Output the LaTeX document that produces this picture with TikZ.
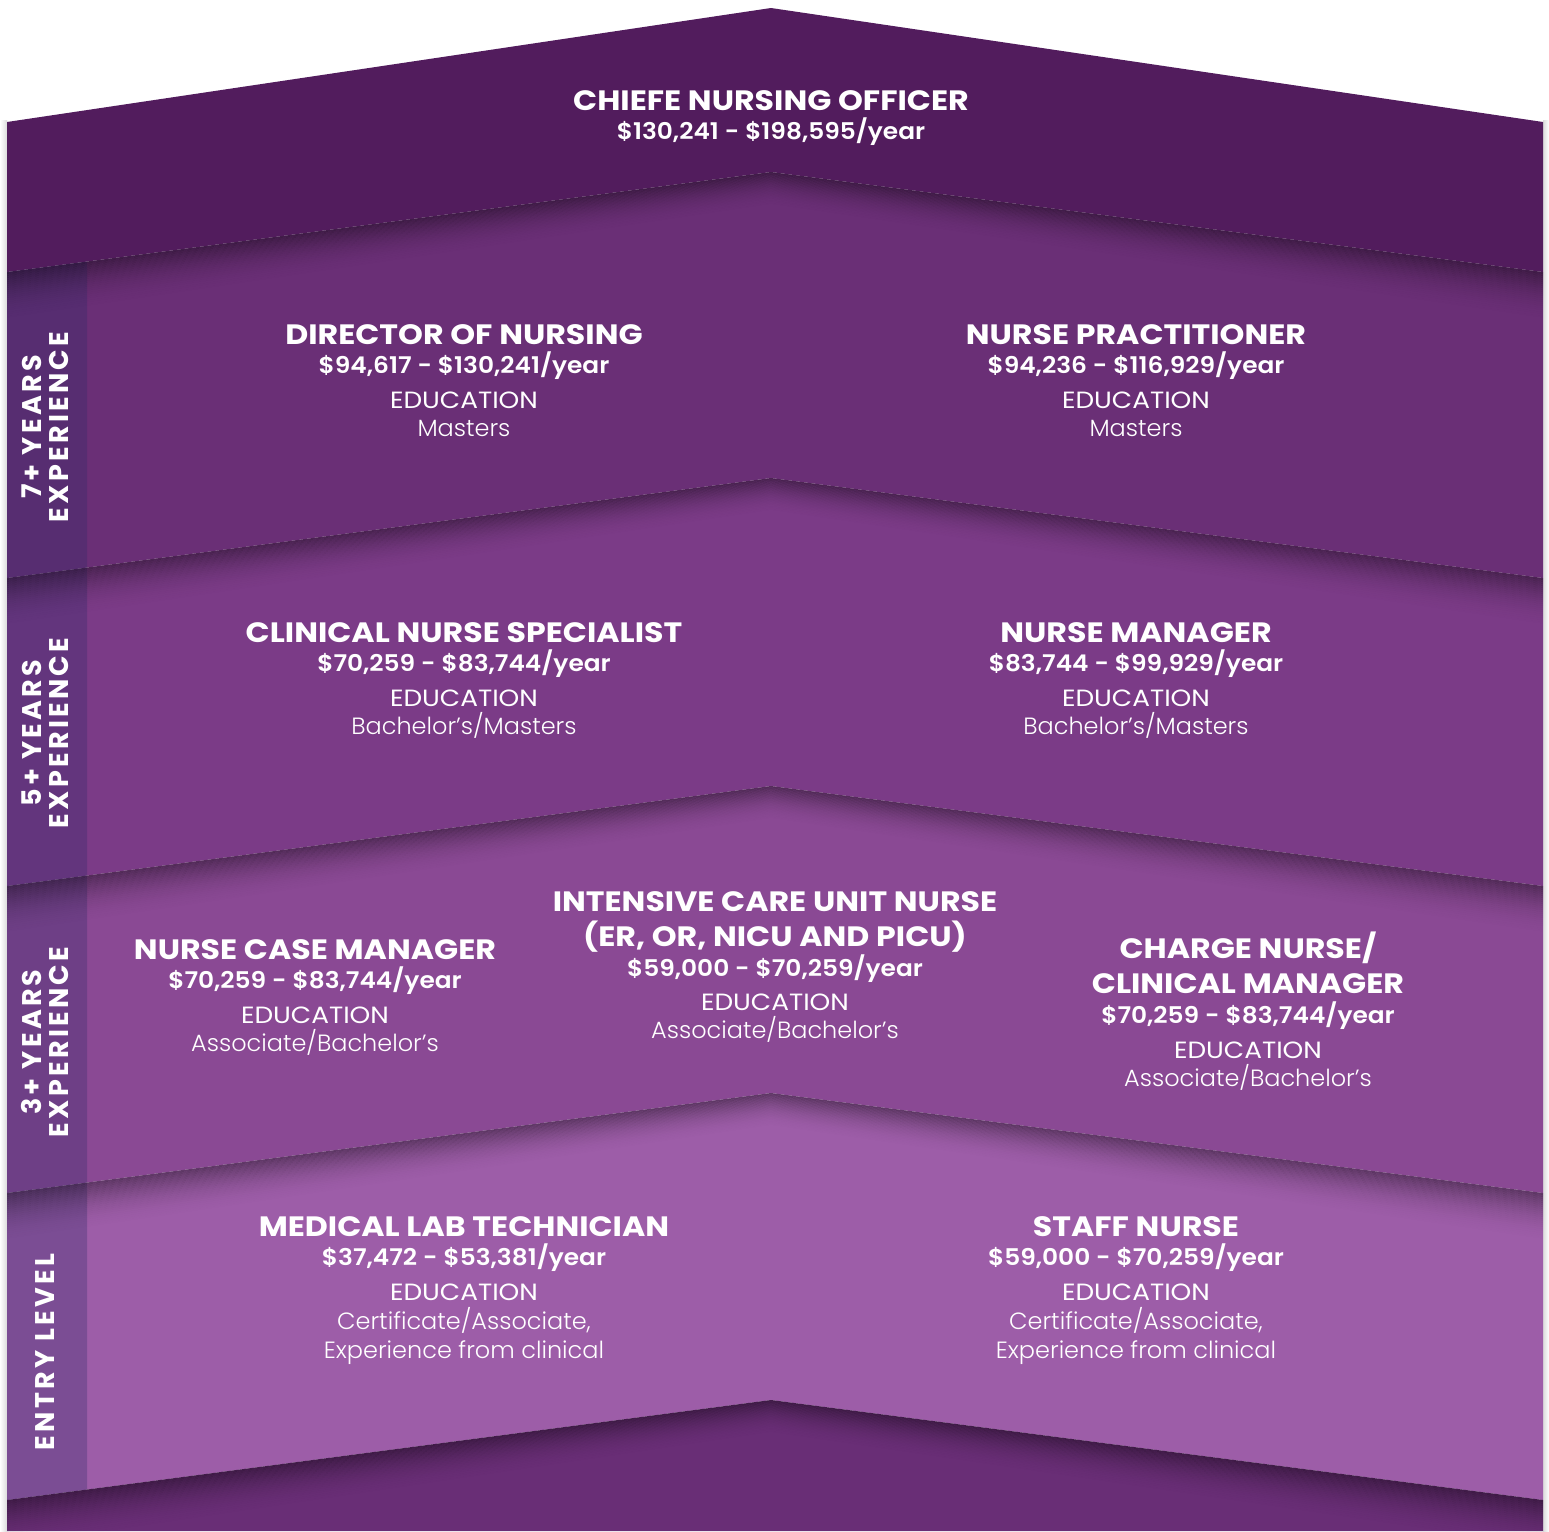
\documentclass[tikz,border=0pt]{standalone}
\usepackage{fontspec}
\setmainfont{Poppins}
\newfontfamily\fTitle{Poppins Bold}[FakeStretch=1.13]
\newfontfamily\fSal{Poppins SemiBold}[FakeStretch=1.08]
\newfontfamily\fEdu{Poppins}[FakeStretch=1.12]
\newfontfamily\fDeg{Poppins Light}[FakeStretch=1.02]
\newfontfamily\fSide{Poppins Bold}[LetterSpace=12]
\definecolor{bandA}{HTML}{521C5D}
\definecolor{bandB}{HTML}{6A2F76}
\definecolor{bandC}{HTML}{7B3B87}
\definecolor{bandD}{HTML}{8A4994}
\definecolor{bandE}{HTML}{9D5DA8}
\definecolor{bandF}{HTML}{692E76}
\definecolor{sideov}{HTML}{2E2A66}
\tikzset{
  ttl/.style={text=white, anchor=base, inner sep=0pt, font=\fTitle\fontsize{28}{28}\selectfont},
  sal/.style={text=white, anchor=base, inner sep=0pt, font=\fSal\fontsize{23}{23}\selectfont},
  edu/.style={text=white, anchor=base, inner sep=0pt, font=\fEdu\fontsize{23.5}{23.5}\selectfont},
  deg/.style={text=white, anchor=base, inner sep=0pt, font=\fDeg\fontsize{23.5}{23.5}\selectfont},
  side/.style={text=white, anchor=center, inner sep=0pt, rotate=90, align=center, font=\fSide\fontsize{27}{26.6}\selectfont},
}
\newcommand\tline[5]{\node[#2] (#1) at (#3,#4) {#5};}
\begin{document}
\begin{tikzpicture}[x=1pt,y=-1pt]
\useasboundingbox (0,0) rectangle (1549,1531);
\clip (0,0) rectangle (1549,1531);
% edge shadows
\shade[left color=white, right color=black!14] (0,120) rectangle (7,1531);
\shade[left color=black!14, right color=white] (1543,120) rectangle (1549,1531);
% bands
\fill[bandA] (7,122) -- (771,8) -- (1543,122) -- (1543,272) -- (771,172) -- (7,272) -- cycle;
\fill[bandB] (7,272) -- (771,172) -- (1543,272) -- (1543,578) -- (771,478) -- (7,578) -- cycle;
\fill[bandC] (7,578) -- (771,478) -- (1543,578) -- (1543,886) -- (771,786) -- (7,886) -- cycle;
\fill[bandD] (7,886) -- (771,786) -- (1543,886) -- (1543,1193) -- (771,1093) -- (7,1193) -- cycle;
\fill[bandE] (7,1193) -- (771,1093) -- (1543,1193) -- (1543,1500) -- (771,1400) -- (7,1500) -- cycle;
\fill[bandF] (7,1500) -- (771,1400) -- (1543,1500) -- (1543,1531) -- (7,1531) -- cycle;
% sidebar overlays
\foreach \ea/\eb in {272/578,578/886,886/1193,1193/1500}{
  \fill[sideov, opacity=0.3] (7,\ea) -- (87,\ea-10.5) -- (87,\eb-10.5) -- (7,\eb) -- cycle;
}
% shadows under each boundary
\foreach \ap/\ed in {172/272,478/578,786/886,1093/1193,1400/1500}{
  \foreach \j in {0,...,23}{
    \pgfmathsetmacro\da{2*\j}
    \pgfmathsetmacro\db{2*(\j+1)}
    \pgfmathsetmacro\op{0.38*(1-\j/24)^2}
    \fill[black, opacity=\op] (7,\ed+\da) -- (771,\ap+0.7*\da) -- (1543,\ed+\da)
      -- (1543,\ed+\db) -- (771,\ap+0.7*\db) -- (7,\ed+\db) -- cycle;
  }
}
% sidebar labels
\node[side] (s7) at (45,427) {7+ YEARS\\EXPERIENCE};
\node[side] (s5) at (45,733) {5+ YEARS\\EXPERIENCE};
\node[side] (s3) at (45,1042) {3+ YEARS\\EXPERIENCE};
\node[side] (s0) at (45,1352) {ENTRY LEVEL};
% CNO
\tline{cnoT}{ttl}{771}{110}{CHIEFE NURSING OFFICER}
\tline{cnoS}{sal}{771}{139}{\$130,241 - \$198,595/year}
% Director
\tline{dirT}{ttl}{464}{344}{DIRECTOR OF NURSING}
\tline{dirS}{sal}{464}{373}{\$94,617 - \$130,241/year}
\tline{dirE}{edu}{464}{408}{EDUCATION}
\tline{dirD}{deg}{464}{436}{Masters}
% NP
\tline{npT}{ttl}{1136}{344}{NURSE PRACTITIONER}
\tline{npS}{sal}{1136}{373}{\$94,236 - \$116,929/year}
\tline{npE}{edu}{1136}{408}{EDUCATION}
\tline{npD}{deg}{1136}{436}{Masters}
% CNS
\tline{cnsT}{ttl}{464}{642}{CLINICAL NURSE SPECIALIST}
\tline{cnsS}{sal}{464}{671}{\$70,259 - \$83,744/year}
\tline{cnsE}{edu}{464}{706}{EDUCATION}
\tline{cnsD}{deg}{464}{734}{Bachelor’s/Masters}
% NM
\tline{nmT}{ttl}{1136}{642}{NURSE MANAGER}
\tline{nmS}{sal}{1136}{671}{\$83,744 - \$99,929/year}
\tline{nmE}{edu}{1136}{706}{EDUCATION}
\tline{nmD}{deg}{1136}{734}{Bachelor’s/Masters}
% NCM
\tline{ncmT}{ttl}{315}{959}{NURSE CASE MANAGER}
\tline{ncmS}{sal}{315}{988}{\$70,259 - \$83,744/year}
\tline{ncmE}{edu}{315}{1023}{EDUCATION}
\tline{ncmD}{deg}{315}{1051}{Associate/Bachelor’s}
% ICU
\tline{icuT}{ttl}{775}{911}{INTENSIVE CARE UNIT NURSE}
\tline{icuU}{ttl}{775}{946}{(ER, OR, NICU AND PICU)}
\tline{icuS}{sal}{775}{976}{\$59,000 - \$70,259/year}
\tline{icuE}{edu}{775}{1010}{EDUCATION}
\tline{icuD}{deg}{775}{1038}{Associate/Bachelor’s}
% Charge
\tline{chT}{ttl}{1248}{958}{CHARGE NURSE/}
\tline{chU}{ttl}{1248}{993}{CLINICAL MANAGER}
\tline{chS}{sal}{1248}{1023}{\$70,259 - \$83,744/year}
\tline{chE}{edu}{1248}{1058}{EDUCATION}
\tline{chD}{deg}{1248}{1086}{Associate/Bachelor’s}
% MLT
\tline{mltT}{ttl}{464}{1236}{MEDICAL LAB TECHNICIAN}
\tline{mltS}{sal}{464}{1265}{\$37,472 - \$53,381/year}
\tline{mltE}{edu}{464}{1300}{EDUCATION}
\tline{mltD}{deg}{464}{1329}{Certificate/Associate,}
\tline{mltF}{deg}{464}{1358}{Experience from clinical}
% Staff
\tline{snT}{ttl}{1136}{1236}{STAFF NURSE}
\tline{snS}{sal}{1136}{1265}{\$59,000 - \$70,259/year}
\tline{snE}{edu}{1136}{1300}{EDUCATION}
\tline{snD}{deg}{1136}{1329}{Certificate/Associate,}
\tline{snF}{deg}{1136}{1358}{Experience from clinical}
\end{tikzpicture}
\end{document}
